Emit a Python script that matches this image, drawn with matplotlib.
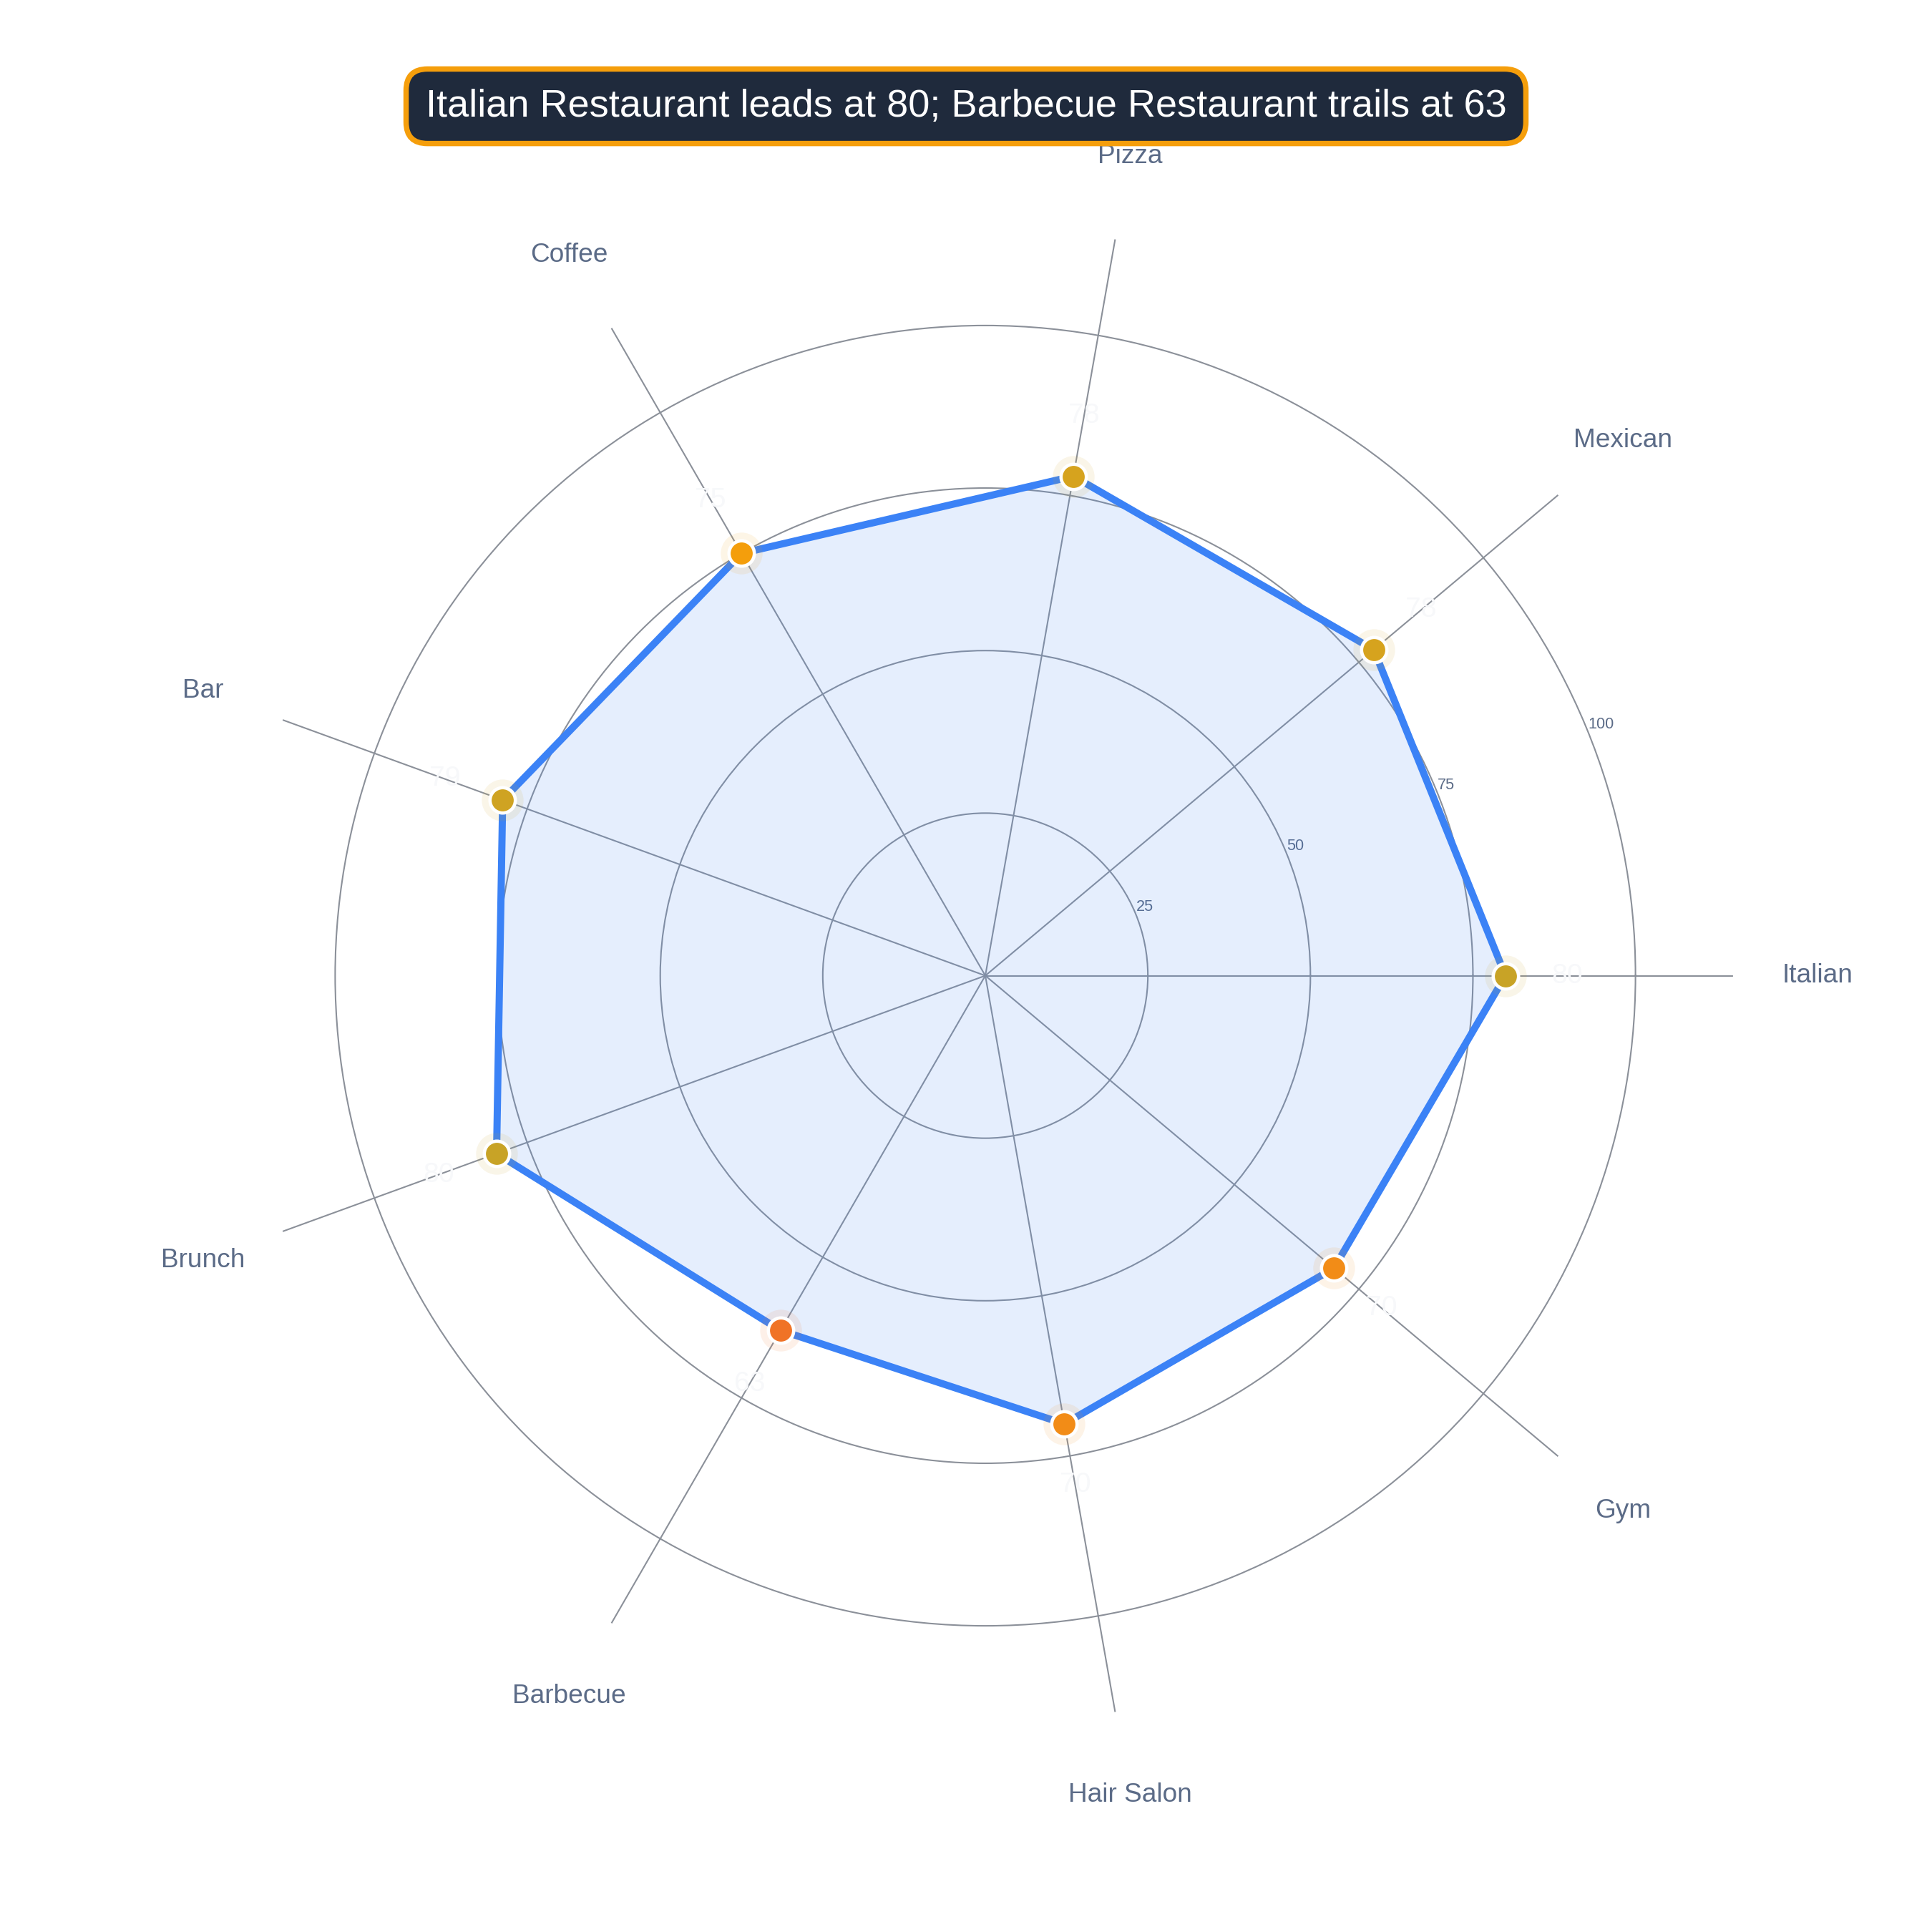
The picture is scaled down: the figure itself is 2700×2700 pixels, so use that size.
import numpy as np
import matplotlib.pyplot as plt
from matplotlib.colors import LinearSegmentedColormap

plt.rcParams['font.family'] = ['Liberation Sans', 'DejaVu Sans']

# data
categories = ['Italian', 'Mexican', 'Pizza', 'Coffee', 'Bar', 'Brunch',
              'Barbecue', 'Hair Salon', 'Gym']
scores = [80, 78, 78, 75, 79, 80, 63, 70, 70]
radial_ticks = [25, 50, 75, 100]
title = 'Italian Restaurant leads at 80; Barbecue Restaurant trails at 63'

# marker colour scale, low -> high
cmap = LinearSegmentedColormap.from_list(
    'score', [(0.0, '#f07326'), (0.41, '#f28c17'), (0.70, '#f59e0b'),
              (0.88, '#d6a31e'), (1.0, '#c8a326')])

n = len(categories)
theta = np.deg2rad(np.arange(n) * 360.0 / n)
vals = np.array(scores, dtype=float)
norm = (vals - vals.min()) / (vals.max() - vals.min())
colors = [cmap(v) for v in norm]

fig = plt.figure(figsize=(9, 9), dpi=300)
ax = fig.add_axes([0.123, 0.108, 0.774, 0.774], projection='polar')
ax.set_ylim(0, 115)
ax.spines['polar'].set_visible(False)
ax.set_facecolor('white')

# grid
ax.set_xticks(theta)
ax.set_xticklabels([])
ax.set_yticks(radial_ticks)
ax.set_yticklabels([str(t) for t in radial_ticks], fontsize=5.2, color='#5b6b87')
ax.set_rlabel_position(22)
ax.tick_params(axis='y', pad=2)
ax.grid(True, color='#8b9099', linewidth=0.5)

# closed polygon
tc = np.append(theta, theta[0])
vc = np.append(vals, vals[0])
ax.fill(tc, vc, color='#3b82f6', alpha=0.13, zorder=2, linewidth=0)
ax.plot(tc, vc, color='#3b82f6', linewidth=2.4, zorder=3,
        solid_joinstyle='miter')

# markers with soft halo
for t, v, c in zip(theta, vals, colors):
    ax.plot(t, v, 'o', ms=14, color=c, alpha=0.1, mew=0, zorder=4)
    ax.plot(t, v, 'o', ms=8.5, color=c, mec='white', mew=1.1, zorder=5)
    ax.text(t, v + 9.5, f'{int(v)}', fontsize=9.4, color='#f7f8fa',
            ha='center', va='center', zorder=6)

# category labels
for t, lab in zip(theta, categories):
    ax.text(t, 128, lab, fontsize=8.9, color='#5b6b87',
            ha='center', va='center', clip_on=False)

fig.text(0.5, 0.945, title, fontsize=13, color='white',
         ha='center', va='center',
         bbox=dict(boxstyle='round,pad=0.5,rounding_size=0.55',
                   facecolor='#1f2a3c', edgecolor='#f59e0b', linewidth=1.8))

fig.savefig('out.png', dpi=300, facecolor='white')
